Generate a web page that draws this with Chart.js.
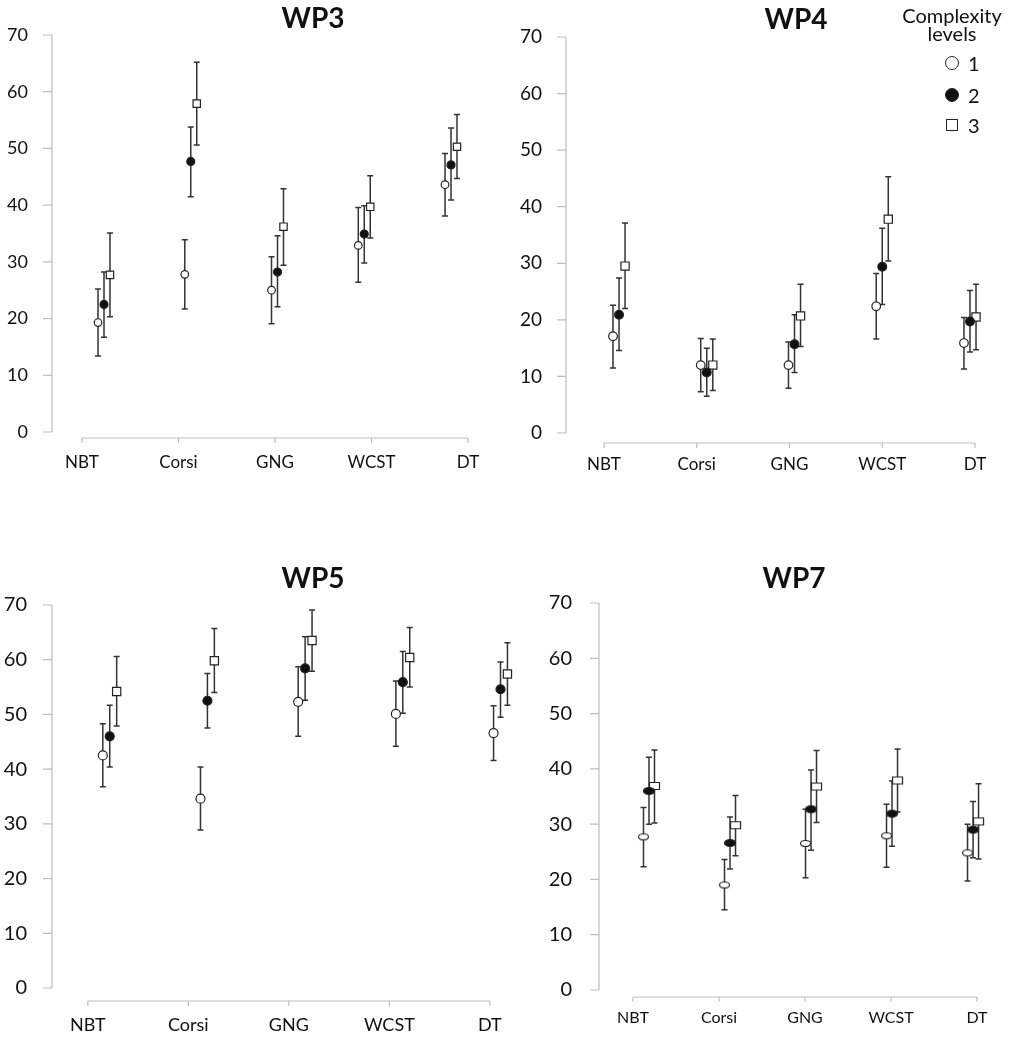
<!DOCTYPE html>
<html>
<head>
<meta charset="utf-8">
<title>Complexity levels WP3-WP7</title>
<script src="https://cdn.jsdelivr.net/npm/chart.js@4.4.1/dist/chart.umd.min.js"></script>
<style>
  body { margin: 0; background: #fff; font-family: Lato, "Open Sans", sans-serif; color: #111; }
  #page { position: relative; width: 1013px; height: 1055px; overflow: hidden; }
  canvas { position: absolute; }
  .title { position: absolute; font-weight: 700; font-size: 28px; transform: translate(-50%, -50%); white-space: nowrap; }
  .legend { position: absolute; font-size: 20px; }
  .legend .head { position: absolute; transform: translate(-50%, -50%); white-space: nowrap; line-height: 18px; }
  .legend .mk { position: absolute; box-sizing: border-box; transform: translate(-50%, -50%); }
  .legend .num { position: absolute; transform: translateY(-50%); }
</style>
</head>
<body>
<div id="page"></div>
<script>
// Data: mean score with lower/upper error bar per complexity level
const categories = ['NBT', 'Corsi', 'GNG', 'WCST', 'DT'];
const levelNames = ['1', '2', '3'];
const yTicks = [0, 10, 20, 30, 40, 50, 60, 70];

// rows = complexity level 1, 2, 3 ; columns follow categories
const wp3Mean = [[19.3, 27.8, 25.0, 32.9, 43.6], [22.5, 47.7, 28.2, 34.9, 47.1], [27.7, 57.9, 36.2, 39.7, 50.3]];
const wp3Low  = [[13.4, 21.7, 19.1, 26.4, 38.1], [16.7, 41.5, 22.1, 29.8, 40.9], [20.3, 50.6, 29.4, 34.2, 44.7]];
const wp3High = [[25.2, 33.9, 30.9, 39.6, 49.1], [28.2, 53.8, 34.6, 39.9, 53.6], [35.1, 65.2, 42.9, 45.2, 56.0]];

const wp4Mean = [[17.1, 12.0, 12.0, 22.4, 15.9], [20.9, 10.7, 15.7, 29.4, 19.7], [29.5, 12.0, 20.7, 37.8, 20.5]];
const wp4Low  = [[11.5, 7.3, 7.9, 16.6, 11.3], [14.6, 6.5, 10.7, 22.7, 14.3], [22.0, 7.5, 15.3, 30.4, 14.7]];
const wp4High = [[22.6, 16.7, 16.1, 28.2, 20.4], [27.4, 15.0, 20.9, 36.2, 25.2], [37.1, 16.6, 26.3, 45.3, 26.3]];

const wp5Mean = [[42.5, 34.6, 52.3, 50.1, 46.6], [46.0, 52.5, 58.4, 55.9, 54.6], [54.2, 59.8, 63.5, 60.4, 57.4]];
const wp5Low  = [[36.8, 28.9, 46.0, 44.2, 41.6], [40.4, 47.5, 52.6, 50.2, 49.5], [47.9, 54.0, 57.9, 55.0, 51.7]];
const wp5High = [[48.3, 40.4, 58.7, 56.1, 51.6], [51.7, 57.5, 64.2, 61.5, 59.6], [60.6, 65.7, 69.1, 65.9, 63.1]];

const wp7Mean = [[27.7, 19.0, 26.5, 27.9, 24.8], [36.0, 26.6, 32.7, 31.9, 29.0], [36.9, 29.8, 36.8, 37.9, 30.5]];
const wp7Low  = [[22.3, 14.5, 20.3, 22.2, 19.7], [30.0, 21.9, 25.3, 26.0, 23.9], [30.2, 24.3, 30.3, 32.2, 23.7]];
const wp7High = [[33.0, 23.6, 32.7, 33.6, 30.0], [42.1, 31.3, 39.8, 37.8, 34.1], [43.4, 35.2, 43.3, 43.6, 37.3]];

// small canvases used as point styles for the squashed markers of WP7
function makeMarker(kind, w, h) {
    let c = document.createElement('canvas');
    c.width = w + 3;
    c.height = h + 3;
    let g = c.getContext('2d');
    g.lineWidth = 1.2;
    g.strokeStyle = '#222';
    g.fillStyle = kind === 'filled' ? '#111' : '#fff';
    g.beginPath();
    if (kind === 'rect') g.rect(c.width / 2 - w / 2, c.height / 2 - h / 2, w, h);
    else g.ellipse(c.width / 2, c.height / 2, w / 2, h / 2, 0, 0, Math.PI * 2);
    g.fill();
    g.stroke();
    return c;
}

const circleMarkers = ['circle', 'circle', 'rect'];
const wp7Markers = [makeMarker('open', 10, 6), makeMarker('filled', 11, 7), makeMarker('rect', 10, 7)];

// panel layout (pixels inside each canvas)
const panels = [
    { title: 'WP3', left: 0, top: 0, width: 505, height: 500, titleX: 313, titleY: 17,
      axisX: 52, plotTop: 35, zeroY: 432, axisY: 438, firstTick: 82, tickStep: 96.5, right: 490,
      groupStart: 0.228, groupStep: 0.899, levelGap: 0.062,
      yFont: 18, yPad: 24, xFont: 17, xPad: 14, radius: [3.8, 4, 5.2], markers: circleMarkers,
      mean: wp3Mean, low: wp3Low, high: wp3High },
    { title: 'WP4', left: 500, top: 0, width: 513, height: 500, titleX: 296, titleY: 18,
      axisX: 66, plotTop: 37, zeroY: 433, axisY: 443, firstTick: 104, tickStep: 92.75, right: 505,
      groupStart: 0.162, groupStep: 0.946, levelGap: 0.065,
      yFont: 19, yPad: 24, xFont: 17, xPad: 11, radius: [4.3, 4.4, 5.8], markers: circleMarkers,
      mean: wp4Mean, low: wp4Low, high: wp4High },
    { title: 'WP5', left: 0, top: 520, width: 515, height: 535, titleX: 313, titleY: 57,
      axisX: 52, plotTop: 85, zeroY: 468, axisY: 481, firstTick: 88, tickStep: 101, right: 505,
      groupStart: 0.218, groupStep: 0.972, levelGap: 0.069,
      yFont: 20, yPad: 25, xFont: 18, xPad: 13, radius: [4.5, 4.5, 5.8], markers: circleMarkers,
      mean: wp5Mean, low: wp5Low, high: wp5High },
    { title: 'WP7', left: 500, top: 520, width: 513, height: 535, titleX: 294, titleY: 57,
      axisX: 99, plotTop: 83, zeroY: 470, axisY: 477, firstTick: 133, tickStep: 86, right: 505,
      groupStart: 0.186, groupStep: 0.942, levelGap: 0.064,
      yFont: 20, yPad: 27, xFont: 16, xPad: 11, radius: [5, 5, 5], markers: wp7Markers,
      mean: wp7Mean, low: wp7Low, high: wp7High }
];

// axes drawn offset (R style) plus error bars, all through the chart scales
const axesAndBars = {
    id: 'axesAndBars',
    beforeDatasetsDraw(chart) {
        let ctx = chart.ctx;
        let xs = chart.scales.x, ys = chart.scales.y;
        let area = chart.chartArea;
        ctx.save();
        ctx.strokeStyle = '#bdbdbd';
        ctx.lineWidth = 1.2;
        ctx.beginPath();
        ctx.moveTo(area.left, ys.getPixelForValue(yTicks[0]));
        ctx.lineTo(area.left, ys.getPixelForValue(yTicks[yTicks.length - 1]));
        yTicks.forEach(v => {
            let y = ys.getPixelForValue(v);
            ctx.moveTo(area.left - 9, y);
            ctx.lineTo(area.left, y);
        });
        ctx.moveTo(xs.getPixelForValue(0), area.bottom);
        ctx.lineTo(xs.getPixelForValue(categories.length - 1), area.bottom);
        categories.forEach((c, i) => {
            let x = xs.getPixelForValue(i);
            ctx.moveTo(x, area.bottom);
            ctx.lineTo(x, area.bottom + 5);
        });
        ctx.stroke();

        ctx.strokeStyle = '#333';
        ctx.lineWidth = 1.5;
        chart.data.datasets.forEach((ds, k) => {
            let meta = chart.getDatasetMeta(k);
            meta.data.forEach((pt, i) => {
                let yLo = ys.getPixelForValue(ds.errLow[i]);
                let yHi = ys.getPixelForValue(ds.errHigh[i]);
                ctx.beginPath();
                ctx.moveTo(pt.x, yLo);
                ctx.lineTo(pt.x, yHi);
                ctx.moveTo(pt.x - 3, yLo);
                ctx.lineTo(pt.x + 3, yLo);
                ctx.moveTo(pt.x - 3, yHi);
                ctx.lineTo(pt.x + 3, yHi);
                ctx.stroke();
            });
        });
        ctx.restore();
    }
};

const page = document.getElementById('page');

panels.forEach(p => {
    let canvas = document.createElement('canvas');
    canvas.width = p.width;
    canvas.height = p.height;
    canvas.style.left = p.left + 'px';
    canvas.style.top = p.top + 'px';
    page.appendChild(canvas);

    let t = document.createElement('div');
    t.className = 'title';
    t.textContent = p.title;
    t.style.left = (p.left + p.titleX) + 'px';
    t.style.top = (p.top + p.titleY) + 'px';
    page.appendChild(t);

    let last = categories.length - 1;
    let xMin = -(p.firstTick - p.axisX) / p.tickStep;
    let xMax = last + (p.right - p.firstTick - last * p.tickStep) / p.tickStep;
    let yMax = yTicks[yTicks.length - 1];
    let yMin = -(p.axisY - p.zeroY) / ((p.zeroY - p.plotTop) / yMax);

    let datasets = levelNames.map((name, k) => ({
        label: name,
        data: categories.map((c, i) => ({ x: p.groupStart + i * p.groupStep + (k - 1) * p.levelGap, y: p.mean[k][i] })),
        errLow: p.low[k],
        errHigh: p.high[k],
        pointStyle: p.markers[k],
        pointRadius: p.radius[k],
        backgroundColor: k === 1 ? '#111' : '#fff',
        borderColor: '#222',
        borderWidth: 1.2,
        showLine: false,
        clip: false
    }));

    new Chart(canvas, {
        type: 'scatter',
        data: { datasets: datasets },
        plugins: [axesAndBars],
        options: {
            responsive: false,
            animation: false,
            events: [],
            layout: { padding: { top: p.plotTop, right: p.width - p.right, left: 0, bottom: 0 } },
            plugins: { legend: { display: false }, title: { display: false }, tooltip: { enabled: false } },
            scales: {
                x: {
                    type: 'linear', min: xMin, max: xMax,
                    afterBuildTicks: s => { s.ticks = categories.map((c, i) => ({ value: i })); },
                    afterFit: s => { s.height = p.height - p.axisY; },
                    grid: { display: false, drawTicks: false },
                    border: { display: false },
                    ticks: {
                        autoSkip: false, maxRotation: 0, padding: p.xPad, color: '#111',
                        font: { family: 'Lato', size: p.xFont },
                        callback: v => categories[v]
                    }
                },
                y: {
                    min: yMin, max: yMax,
                    afterBuildTicks: s => { s.ticks = yTicks.map(v => ({ value: v })); },
                    afterFit: s => { s.width = p.axisX; },
                    grid: { display: false, drawTicks: false },
                    border: { display: false },
                    ticks: { padding: p.yPad, color: '#111', font: { family: 'Lato', size: p.yFont } }
                }
            }
        }
    });
});

// legend of complexity levels (top right, inside WP4)
const legendX = 952;
const legendRows = [63, 95, 125];
let lg = document.createElement('div');
lg.className = 'legend';
lg.style.left = '0px';
lg.style.top = '0px';
['Complexity', 'levels'].forEach((txt, j) => {
    let h = document.createElement('div');
    h.className = 'head';
    h.textContent = txt;
    h.style.left = legendX + 'px';
    h.style.top = (15 + j * 18) + 'px';
    lg.appendChild(h);
});
levelNames.forEach((name, k) => {
    let m = document.createElement('div');
    m.className = 'mk';
    let size = k === 2 ? 12 : 14;
    m.style.width = size + 'px';
    m.style.height = size + 'px';
    m.style.left = legendX + 'px';
    m.style.top = legendRows[k] + 'px';
    m.style.border = '1.3px solid #222';
    m.style.borderRadius = k === 2 ? '0' : '50%';
    m.style.background = k === 1 ? '#111' : '#fff';
    lg.appendChild(m);
    let n = document.createElement('div');
    n.className = 'num';
    n.textContent = name;
    n.style.left = (legendX + 16) + 'px';
    n.style.top = legendRows[k] + 'px';
    lg.appendChild(n);
});
page.appendChild(lg);
</script>
</body>
</html>
